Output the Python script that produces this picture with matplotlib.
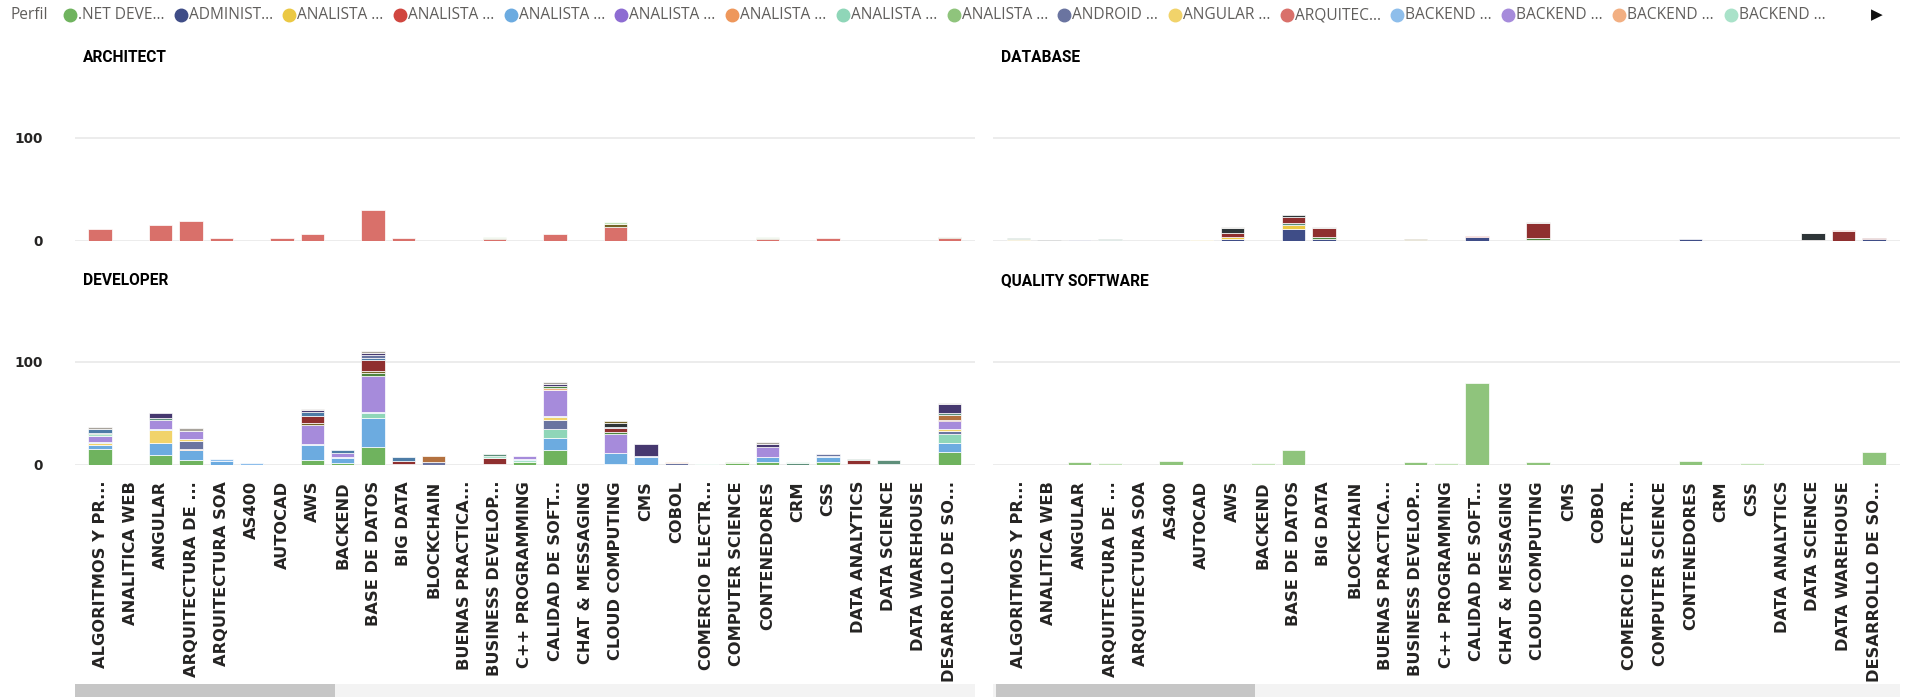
import matplotlib
matplotlib.use("Agg")
import matplotlib.pyplot as plt
from matplotlib.lines import Line2D
from matplotlib.patches import Rectangle

# ---------------------------------------------------------------- data
categories = [
    "ALGORITMOS Y PR...", "ANALITICA WEB", "ANGULAR", "ARQUITECTURA DE ...",
    "ARQUITECTURA SOA", "AS400", "AUTOCAD", "AWS", "BACKEND", "BASE DE DATOS",
    "BIG DATA", "BLOCKCHAIN", "BUENAS PRACTICA...", "BUSINESS DEVELOP...",
    "C++ PROGRAMMING", "CALIDAD DE SOFT...", "CHAT & MESSAGING",
    "CLOUD COMPUTING", "CMS", "COBOL", "COMERCIO ELECTR...", "COMPUTER SCIENCE",
    "CONTENEDORES", "CRM", "CSS", "DATA ANALYTICS", "DATA SCIENCE",
    "DATA WAREHOUSE", "DESARROLLO DE SO...",
]

# perfiles shown in the legend strip (the rest sit behind the scroll arrow)
legend_keys = ["NET", "ADM", "AN_Y", "AN_R", "AN_B", "AN_P", "AN_O", "AN_M",
               "AN_G", "AND", "ANG", "ARQ", "BE_B", "BE_P", "BE_O", "BE_M"]
legend_labels = [".NET DEVE...", "ADMINIST...", "ANALISTA ...", "ANALISTA ...",
                 "ANALISTA ...", "ANALISTA ...", "ANALISTA ...", "ANALISTA ...",
                 "ANALISTA ...", "ANDROID ...", "ANGULAR ...", "ARQUITEC...",
                 "BACKEND ...", "BACKEND ...", "BACKEND ...", "BACKEND ..."]

series_colors = {
    "NET": "#6FB35E", "ADM": "#3F4D87", "AN_Y": "#EBC843", "AN_R": "#D0463F",
    "AN_B": "#6CABE0", "AN_P": "#8D6CD2", "AN_O": "#EE975B", "AN_M": "#8FD6B8",
    "AN_G": "#8FC47C", "AND": "#6A74A0", "ANG": "#F1D36A", "ARQ": "#D9706A",
    "BE_B": "#8EBEEB", "BE_P": "#A68BDB", "BE_O": "#F2AF82", "BE_M": "#A9E2C9",
    # further perfiles of the scrolled legend
    "DGRN": "#4E8540", "OLV": "#736326", "DRED": "#8F2F2F", "BRN": "#B3713F",
    "DTEAL": "#5E8F7A", "STEEL": "#4D7CA6", "CHAR": "#2E3538", "DPUR": "#46386F",
    "GRAY": "#A8A39C", "PALE": "#C4E2B8",
}

# stacked segments per category, bottom to top: (perfil, count)
architect = {
    "ALGORITMOS Y PR...": [("ARQ", 11.5)],
    "ANGULAR": [("ARQ", 15)],
    "ARQUITECTURA DE ...": [("ARQ", 19)],
    "ARQUITECTURA SOA": [("ARQ", 2.6)],
    "AUTOCAD": [("ARQ", 2.6)],
    "AWS": [("ARQ", 6.7)],
    "BASE DE DATOS": [("ARQ", 29.5)],
    "BIG DATA": [("ARQ", 2.6)],
    "BUSINESS DEVELOP...": [("ARQ", 1.5), ("OLV", 1.3), ("PALE", 0.7)],
    "CALIDAD DE SOFT...": [("ARQ", 6.4)],
    "CLOUD COMPUTING": [("ARQ", 13.5), ("OLV", 3.2), ("PALE", 1.3)],
    "CONTENEDORES": [("ARQ", 2.0), ("OLV", 1.3), ("PALE", 0.9)],
    "CSS": [("ARQ", 3.2)],
    "DESARROLLO DE SO...": [("ARQ", 3.0), ("OLV", 0.6), ("PALE", 0.6)],
}

database = {
    "ALGORITMOS Y PR...": [("ADM", 1.0), ("AN_Y", 1.0), ("DTEAL", 1.2)],
    "ANALITICA WEB": [("CHAR", 1.3)],
    "ANGULAR": [("AND", 1.3)],
    "ARQUITECTURA DE ...": [("ADM", 1.2), ("DTEAL", 1.0)],
    "AUTOCAD": [("ANG", 1.3)],
    "AWS": [("ADM", 2.2), ("AN_Y", 2.0), ("DRED", 3.5), ("CHAR", 5.0), ("GRAY", 0.8)],
    "BASE DE DATOS": [("ADM", 11.5), ("AN_Y", 3.8), ("DTEAL", 2.2), ("DRED", 5.4),
                      ("CHAR", 2.6)],
    "BIG DATA": [("ADM", 2.0), ("DGRN", 1.9), ("DRED", 8.3), ("GRAY", 1.3)],
    "BUSINESS DEVELOP...": [("AN_Y", 1.0), ("OLV", 1.2)],
    "CALIDAD DE SOFT...": [("ADM", 4.2), ("AN_R", 1.0)],
    "CLOUD COMPUTING": [("ARQ", 0.6), ("DGRN", 2.6), ("DRED", 13.8), ("GRAY", 1.6)],
    "CONTENEDORES": [("ADM", 2.2)],
    "DATA SCIENCE": [("AN_R", 0.6), ("CHAR", 6.7), ("GRAY", 0.7)],
    "DATA WAREHOUSE": [("DRED", 9.3), ("ARQ", 1.3)],
    "DESARROLLO DE SO...": [("ADM", 2.2), ("DRED", 1.0)],
}

developer = {
    "ALGORITMOS Y PR...": [("NET", 15.5), ("AN_B", 4.0), ("ANG", 1.5), ("BE_B", 1.0),
                           ("BE_P", 6.5), ("BE_M", 1.5), ("DGRN", 1.0),
                           ("STEEL", 4.0), ("GRAY", 2.0)],
    "ANGULAR": [("NET", 9.5), ("AN_B", 12.0), ("ANG", 12.0), ("BE_B", 1.0),
                ("BE_P", 9.0), ("DTEAL", 1.5), ("DPUR", 5.0)],
    "ARQUITECTURA DE ...": [("NET", 5.0), ("AN_B", 9.5), ("AN_O", 1.2), ("AND", 7.7),
                            ("ANG", 1.5), ("BE_B", 0.5), ("BE_P", 7.5), ("GRAY", 3.0)],
    "ARQUITECTURA SOA": [("AN_B", 4.0), ("BE_B", 1.5)],
    "AS400": [("BE_B", 1.5)],
    "AWS": [("NET", 5.0), ("AN_B", 14.0), ("BE_B", 1.5), ("BE_P", 18.5), ("OLV", 1.5),
            ("DRED", 7.0), ("STEEL", 4.0), ("DPUR", 1.5), ("GRAY", 1.0)],
    "BACKEND": [("NET", 2.0), ("AN_B", 5.0), ("BE_B", 1.0), ("BE_P", 4.0),
                ("STEEL", 2.5)],
    "BASE DE DATOS": [("NET", 17.7), ("AN_B", 27.7), ("AN_M", 4.5), ("BE_B", 1.0),
                      ("BE_P", 35.0), ("DGRN", 3.0), ("OLV", 2.0), ("DRED", 10.3),
                      ("STEEL", 2.5), ("AND", 2.5), ("DPUR", 2.0), ("GRAY", 2.0)],
    "BIG DATA": [("BE_P", 0.5), ("DRED", 3.0), ("STEEL", 4.0)],
    "BLOCKCHAIN": [("AND", 2.5), ("BRN", 6.0)],
    "BUSINESS DEVELOP...": [("BE_P", 1.0), ("DRED", 5.8), ("BE_M", 1.5), ("DTEAL", 2.3)],
    "C++ PROGRAMMING": [("NET", 3.2), ("BE_M", 2.0), ("BE_B", 1.0), ("BE_P", 2.5)],
    "CALIDAD DE SOFT...": [("NET", 14.5), ("AN_B", 11.3), ("AN_M", 9.0), ("AND", 9.0),
                           ("ANG", 2.3), ("BE_B", 1.0), ("BE_P", 25.5), ("BE_O", 2.0),
                           ("DGRN", 2.0), ("DPUR", 2.0), ("GRAY", 1.5)],
    "CLOUD COMPUTING": [("BE_M", 1.2), ("AN_B", 10.3), ("BE_P", 18.4), ("DGRN", 2.2),
                        ("DRED", 3.2), ("STEEL", 1.5), ("CHAR", 3.5), ("OLV", 2.2)],
    "CMS": [("AN_B", 7.5), ("BE_B", 1.2), ("DPUR", 11.9)],
    "COBOL": [("AND", 1.6), ("BE_O", 1.4)],
    "COMERCIO ELECTR...": [("BE_M", 1.3)],
    "COMPUTER SCIENCE": [("NET", 2.0), ("AN_G", 1.2)],
    "CONTENEDORES": [("NET", 2.5), ("AN_B", 5.5), ("BE_P", 9.0), ("DPUR", 3.5),
                     ("GRAY", 1.6)],
    "CRM": [("DTEAL", 2.2), ("BE_M", 1.0)],
    "CSS": [("NET", 2.5), ("AN_B", 4.8), ("BE_B", 1.6), ("AND", 2.0)],
    "DATA ANALYTICS": [("BE_P", 0.5), ("DRED", 3.9), ("DTEAL", 1.3)],
    "DATA SCIENCE": [("BE_P", 1.3), ("DTEAL", 3.5)],
    "DESARROLLO DE SO...": [("NET", 13.0), ("AN_B", 8.4), ("AN_M", 9.0), ("AND", 2.0),
                            ("ANG", 2.5), ("BE_P", 7.4), ("DRED", 1.6), ("BRN", 4.8),
                            ("DTEAL", 1.6), ("DPUR", 8.7), ("GRAY", 0.6)],
}

quality = {
    "ANGULAR": [("AN_G", 2.9)],
    "ARQUITECTURA DE ...": [("PALE", 1.9)],
    "AS400": [("AN_G", 3.9)],
    "BACKEND": [("PALE", 1.9)],
    "BASE DE DATOS": [("AN_G", 14.8)],
    "BUSINESS DEVELOP...": [("AN_G", 2.9)],
    "C++ PROGRAMMING": [("PALE", 1.9)],
    "CALIDAD DE SOFT...": [("AN_G", 79.0)],
    "CLOUD COMPUTING": [("AN_G", 2.9)],
    "CONTENEDORES": [("AN_G", 3.9)],
    "CSS": [("PALE", 1.9)],
    "DESARROLLO DE SO...": [("AN_G", 12.5)],
}

panels = [("ARCHITECT", architect), ("DATABASE", database),
          ("DEVELOPER", developer), ("QUALITY SOFTWARE", quality)]
y_ticks = [0, 100]

# ---------------------------------------------------------------- layout
W, H, DPI = 1910, 697, 100
fig = plt.figure(figsize=(W / DPI, H / DPI), dpi=DPI)
fig.patch.set_facecolor("white")

PX_PER_UNIT = 1.035
Y_MAX = 155
cols = [(75, 975), (993, 1900)]
baselines = [241, 465]
title_y = [57, 281]
TEXT_DARK = "#252423"
GRID = "#EAEAEA"


def fx(x):
    return x / W


def fy(y):
    return 1 - y / H


for p, (title, data) in enumerate(panels):
    row, col = divmod(p, 2)
    left, right = cols[col]
    bottom = baselines[row]
    top = bottom - Y_MAX * PX_PER_UNIT
    ax = fig.add_axes([fx(left), fy(bottom), (right - left) / W, (bottom - top) / H])
    ax.set_facecolor("white")

    for i, cat in enumerate(categories):
        base = 0.0
        for key, val in data.get(cat, []):
            ax.bar(i, val, bottom=base, width=0.77, color=series_colors[key],
                   edgecolor="white", linewidth=0.5, zorder=3)
            base += val

    ax.set_xlim(-0.83, len(categories) - 0.15)
    ax.set_ylim(0, Y_MAX)
    for s in ax.spines.values():
        s.set_visible(False)
    ax.set_yticks(y_ticks)
    ax.yaxis.grid(True, color=GRID, linewidth=1.3, zorder=0)
    ax.set_axisbelow(True)
    ax.tick_params(axis="y", length=0, pad=23, labelsize=9.8,
                   labelcolor=TEXT_DARK, labelleft=(col == 0))
    for lab in ax.get_yticklabels():
        lab.set_fontweight("bold")

    ax.set_xticks(range(len(categories)))
    if row == 1:
        ax.set_xticklabels(categories, rotation=90, fontsize=11.7,
                           fontweight="bold", color=TEXT_DARK, va="top", ha="center")
        ax.tick_params(axis="x", length=0, pad=11.5)
    else:
        ax.tick_params(axis="x", length=0, labelbottom=False)

    fig.text(fx(left + 8), fy(title_y[row]), title, fontsize=11.2,
             fontweight="bold", family="Roboto", color="#000000",
             ha="left", va="center")

# scroll bars under the category axes
for (left, right), thumb in zip(cols, [(75, 335), (996, 1255)]):
    fig.add_artist(Rectangle((fx(left), fy(697)), (right - left) / W, 13 / H,
                             transform=fig.transFigure, color="#F3F3F3", lw=0))
    fig.add_artist(Rectangle((fx(thumb[0]), fy(697)), (thumb[1] - thumb[0]) / W,
                             13 / H, transform=fig.transFigure, color="#C6C6C6", lw=0))

# legend strip
renderer = fig.canvas.get_renderer()
LEG_Y = fy(15)
LEG_FONT = dict(fontsize=11.2, family="Open Sans", color="#605E5C", va="center")
t = fig.text(fx(10), LEG_Y, "Perfil", ha="left", **LEG_FONT)
x = 10 + t.get_window_extent(renderer).width + 16
for key, label in zip(legend_keys, legend_labels):
    fig.add_artist(Line2D([fx(x + 6)], [LEG_Y], marker="o", markersize=9,
                          color=series_colors[key], linestyle="none",
                          transform=fig.transFigure))
    t = fig.text(fx(x + 14), LEG_Y, label, ha="left", **LEG_FONT)
    x += 14 + t.get_window_extent(renderer).width + 10.5
fig.text(fx(1877), LEG_Y, "\u25B6", fontsize=11, color="#111111",
         ha="center", va="center", family="DejaVu Sans")

fig.savefig("out.png", dpi=DPI, facecolor="white")
